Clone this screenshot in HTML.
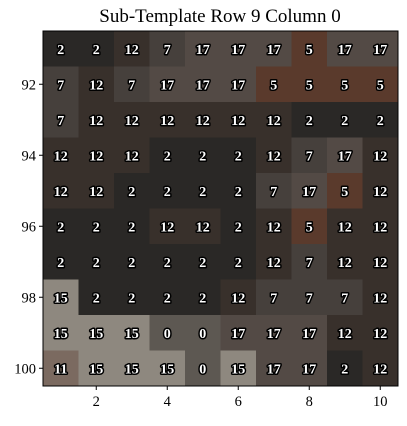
<!DOCTYPE html>
<html><head><meta charset="utf-8"><style>
body{margin:0;background:#fff;}
svg text{font-family:"Liberation Serif",serif;}
</style></head><body>
<svg id="chart" width="407" height="421" xmlns="http://www.w3.org/2000/svg">
<text x="220" y="22" text-anchor="middle" font-size="19" fill="#000">Sub-Template Row 9 Column 0</text>
<g id="cells"></g>
<g id="labels"></g>
<rect x="43" y="31" width="355" height="355" fill="none" stroke="#000" stroke-width="1"/>
<g id="axes"></g>
</svg>
<script>
const xCats=[1,2,3,4,5,6,7,8,9,10];
const yCats=[91,92,93,94,95,96,97,98,99,100];
const row91=[2,2,12,7,17,17,17,5,17,17];
const row92=[7,12,7,17,17,17,5,5,5,5];
const row93=[7,12,12,12,12,12,12,2,2,2];
const row94=[12,12,12,2,2,2,12,7,17,12];
const row95=[12,12,2,2,2,2,7,17,5,12];
const row96=[2,2,2,12,12,2,12,5,12,12];
const row97=[2,2,2,2,2,2,12,7,12,12];
const row98=[15,2,2,2,2,12,7,7,7,12];
const row99=[15,15,15,0,0,17,17,17,12,12];
const row100=[11,15,15,15,0,15,17,17,2,12];
const values=[row91,row92,row93,row94,row95,row96,row97,row98,row99,row100];
const xTicks=[2,4,6,8,10];
const yTicks=[92,94,96,98,100];
const colorMap={0:"#5d5852",2:"#2a2826",5:"#5a3a2c",7:"#46403c",11:"#7b6a60",12:"#38302b",15:"#8e887f",17:"#534a45"};
const L=43,T=31,W=355,H=355,cw=W/xCats.length,ch=H/yCats.length;
function xs(v){return L+(v-xCats[0]+0.5)*cw;}
function ys(v){return T+(v-yCats[0]+0.5)*ch;}
const NS="http://www.w3.org/2000/svg";
const cells=document.getElementById('cells'),labels=document.getElementById('labels'),axes=document.getElementById('axes');
values.forEach((row,ri)=>row.forEach((v,ci)=>{
  const r=document.createElementNS(NS,'rect');
  r.setAttribute('x',xs(xCats[ci])-cw/2);r.setAttribute('y',ys(yCats[ri])-ch/2);
  r.setAttribute('width',cw+0.5);r.setAttribute('height',ch+0.5);
  r.setAttribute('fill',colorMap[v]||"#444");
  
  
  cells.appendChild(r);
  const t=document.createElementNS(NS,'text');
  t.setAttribute('x',xs(xCats[ci]));t.setAttribute('y',ys(yCats[ri])+5);
  t.setAttribute('text-anchor','middle');t.setAttribute('font-size','14');t.setAttribute('font-weight','bold');
  t.setAttribute('fill','#fff');t.setAttribute('stroke','#000');t.setAttribute('stroke-width','3');
  t.setAttribute('paint-order','stroke');t.setAttribute('stroke-linejoin','round');
  t.textContent=v;
  
  
  labels.appendChild(t);
}));
xTicks.forEach(v=>{
  const x=xs(v);
  const l=document.createElementNS(NS,'line');
  l.setAttribute('x1',x);l.setAttribute('x2',x);l.setAttribute('y1',T+H);l.setAttribute('y2',T+H+4);l.setAttribute('stroke','#000');
  
  
  axes.appendChild(l);
  const t=document.createElementNS(NS,'text');
  t.setAttribute('x',x);t.setAttribute('y',T+H+20);t.setAttribute('text-anchor','middle');t.setAttribute('font-size','14.5');
  t.textContent=v;
  
  
  axes.appendChild(t);
});
yTicks.forEach(v=>{
  const y=ys(v);
  const l=document.createElementNS(NS,'line');
  l.setAttribute('x1',L-4);l.setAttribute('x2',L);l.setAttribute('y1',y);l.setAttribute('y2',y);l.setAttribute('stroke','#000');
  
  
  axes.appendChild(l);
  const t=document.createElementNS(NS,'text');
  t.setAttribute('x',L-7);t.setAttribute('y',y+5);t.setAttribute('text-anchor','end');t.setAttribute('font-size','14.5');
  t.textContent=v;
  
  
  axes.appendChild(t);
});
</script>
</body></html>
